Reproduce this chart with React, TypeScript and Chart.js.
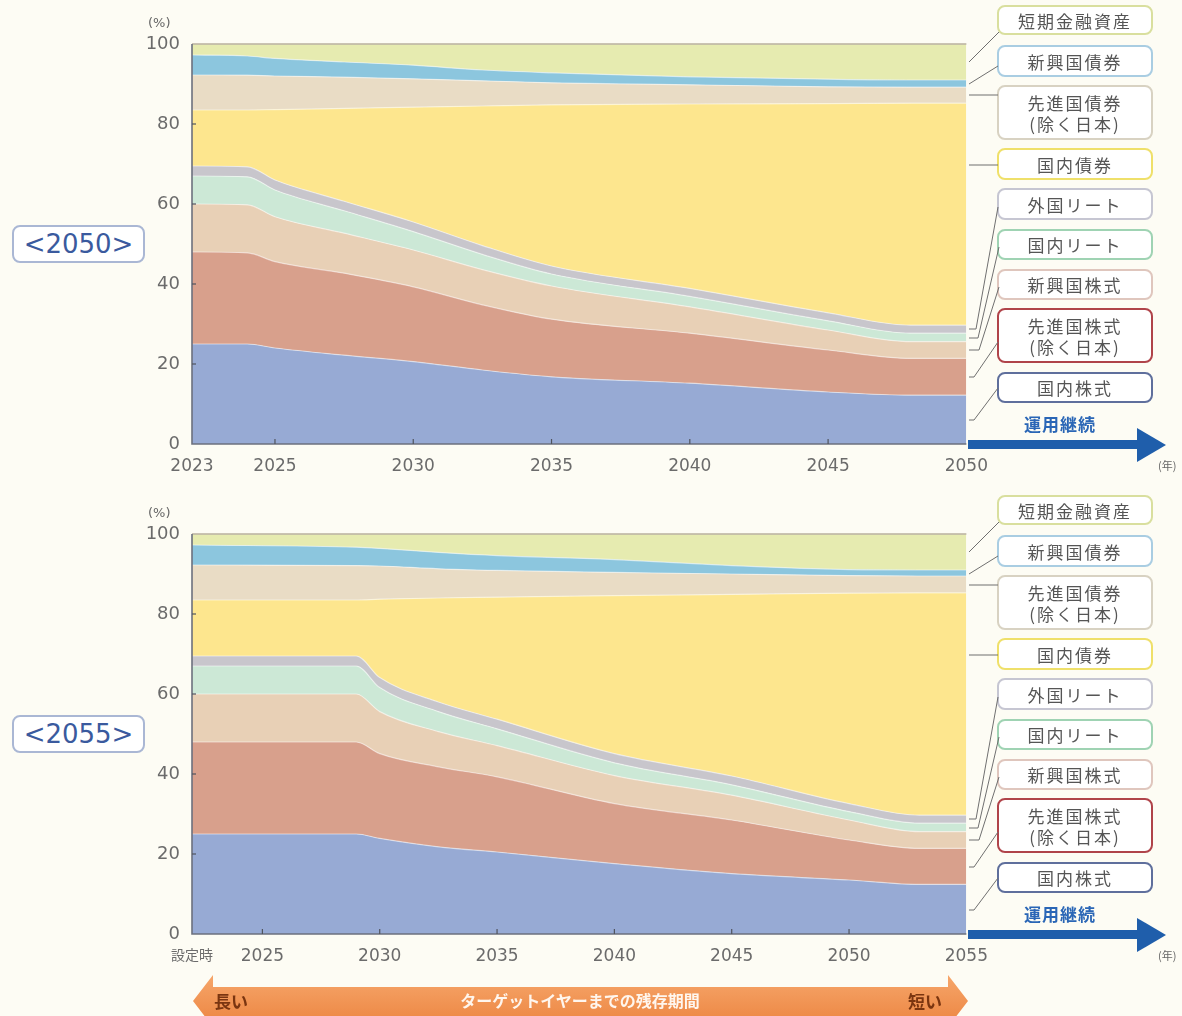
import React, { useEffect, useRef } from "react";
import { Chart, registerables } from "chart.js";
Chart.register(...registerables);

const ASSETS = ["国内株式", "先進国株式(除く日本)", "新興国株式", "国内リート", "外国リート", "国内債券", "先進国債券(除く日本)", "新興国債券", "短期金融資産"];
const COLORS = ["#97aad4", "#d8a08c", "#e8d0b6", "#cce8d6", "#c8c6cc", "#fde68e", "#e9dcc5", "#8cc6de", "#e6ebb0"];

// <2050> fund
const years2050 = [2022, 2024, 2025, 2027.5, 2030, 2032.5, 2035, 2040, 2045, 2048, 2050];
const domStocks2050 = [25, 25, 24, 22.2, 20.6, 18.5, 16.8, 15.2, 13, 12.2, 12.2];
const devStocks2050 = [23, 22.8, 21.6, 20.5, 18.7, 16.3, 14.4, 12.5, 10.5, 9.2, 9.2];
const emStocks2050 = [12, 12, 11.2, 10, 9.2, 8.8, 8.3, 6.6, 5.0, 4.2, 4.2];
const domReit2050 = [7, 7, 6.7, 5.6, 4.6, 3.8, 3.0, 2.6, 2.3, 2.1, 2.1];
const forReit2050 = [2.5, 2.5, 2.5, 2.4, 2.4, 2.2, 2.0, 2.0, 2.0, 2.0, 2.0];
const domBonds2050 = [14, 14.2, 17.6, 23.2, 28.7, 34.9, 40.3, 46.1, 52.3, 55.5, 55.5];
const devBonds2050 = [8.75, 8.7, 8.4, 7.8, 7.1, 6.3, 5.5, 4.8, 4.2, 4.0, 4.0];
const emBonds2050 = [5, 4.8, 4.4, 3.8, 3.4, 2.7, 2.5, 2.0, 1.9, 1.8, 1.8];
const shortTerm2050 = [2.75, 3, 3.6, 4.5, 5.3, 6.5, 7.2, 8.2, 8.8, 9, 9];
const ticks2050 = [2022, 2025, 2030, 2035, 2040, 2045, 2050];

// <2055> fund
const years2055 = [2022, 2029, 2030, 2032.5, 2035, 2040, 2045, 2050, 2053, 2055];
const domStocks2055 = [25, 25, 23.9, 21.8, 20.5, 17.6, 15.1, 13.5, 12.4, 12.4];
const devStocks2055 = [23, 23, 21.2, 20, 18.8, 15, 13.4, 10, 9, 9];
const emStocks2055 = [12, 12, 10.5, 8.8, 7.8, 7, 6.2, 5, 4.2, 4.2];
const domReit2055 = [7, 7, 6, 5, 4.2, 3.2, 2.6, 2.1, 2.1, 2.1];
const forReit2055 = [2.5, 2.5, 2.5, 2.4, 2.4, 2.3, 2.2, 2, 2, 2];
const domBonds2055 = [14, 14, 19.6, 26, 30.5, 39.5, 45.4, 52.6, 55.6, 55.6];
const devBonds2055 = [8.75, 8.6, 8.3, 7.3, 6.7, 5.8, 5.1, 4.4, 4.2, 4.2];
const emBonds2055 = [5, 4.6, 4.4, 4.1, 3.7, 3.2, 2.1, 1.5, 1.5, 1.5];
const shortTerm2055 = [2.75, 3.3, 3.6, 4.6, 5.4, 6.4, 7.9, 8.9, 9, 9];
const ticks2055 = [2022, 2025, 2030, 2035, 2040, 2045, 2050, 2055];

const yTicks = [0, 20, 40, 60, 80, 100];

const LEGEND = [
  { lines: ["短期金融資産"], border: "#d9df9e" },
  { lines: ["新興国債券"], border: "#a9cde2" },
  { lines: ["先進国債券", "(除く日本)"], border: "#d8d2c2" },
  { lines: ["国内債券"], border: "#efe06a" },
  { lines: ["外国リート"], border: "#c6c6d2" },
  { lines: ["国内リート"], border: "#9fd3b3" },
  { lines: ["新興国株式"], border: "#dfc6bd" },
  { lines: ["先進国株式", "(除く日本)"], border: "#b0444a" },
  { lines: ["国内株式"], border: "#5f6f9c" },
];

const CJK = '"Noto Sans CJK JP", "Noto Sans", sans-serif';
const NUM = '"DejaVu Sans", sans-serif';

const framePlugin = {
  id: "frame",
  afterDatasetsDraw(chart: any) {
    const { ctx, chartArea } = chart;
    const { left, right, top, bottom } = chartArea;
    const ys = chart.scales.y;
    const xs = chart.scales.x;
    ctx.save();
    ctx.strokeStyle = "#b8b19e";
    ctx.lineWidth = 1.5;
    ctx.beginPath();
    ctx.moveTo(left, top);
    ctx.lineTo(right, top);
    ctx.stroke();
    ctx.strokeStyle = "#6c707e";
    ctx.lineWidth = 1.6;
    ctx.beginPath();
    ctx.moveTo(left, top);
    ctx.lineTo(left, bottom);
    ctx.lineTo(right, bottom);
    ctx.stroke();
    ctx.lineWidth = 1.2;
    ctx.strokeStyle = "#50545e";
    ys.ticks.forEach((t: any) => {
      if (t.value === 0 || t.value === 100) return;
      const py = ys.getPixelForValue(t.value);
      ctx.beginPath();
      ctx.moveTo(left, py);
      ctx.lineTo(left + 4, py);
      ctx.stroke();
    });
    xs.ticks.forEach((t: any, i: number) => {
      if (i === 0 || i === xs.ticks.length - 1) return;
      const px = xs.getPixelForValue(t.value);
      ctx.beginPath();
      ctx.moveTo(px, bottom);
      ctx.lineTo(px, bottom - 5);
      ctx.stroke();
    });
    ctx.restore();
  },
};

function AreaChart({ years, series, xTicks, firstLabel, cjkFirst }: any) {
  const ref = useRef<HTMLCanvasElement>(null);
  useEffect(() => {
    const chart = new Chart(ref.current as HTMLCanvasElement, {
      type: "line",
      data: {
        datasets: series.map((vals: number[], i: number) => ({
          label: ASSETS[i],
          data: vals.map((v: number, j: number) => ({ x: years[j], y: v })),
          backgroundColor: COLORS[i],
          borderColor: "rgba(255,255,255,0.5)",
          borderWidth: 1.2,
          pointRadius: 0,
          fill: i === 0 ? "origin" : "-1",
          cubicInterpolationMode: "monotone",
        })),
      },
      options: {
        responsive: false,
        animation: false,
        layout: { padding: { left: 12, top: 44, right: 32, bottom: 10 } },
        plugins: { legend: { display: false }, tooltip: { enabled: false } },
        scales: {
          x: {
            type: "linear",
            min: xTicks[0],
            max: xTicks[xTicks.length - 1],
            afterBuildTicks: (s: any) => {
              s.ticks = xTicks.map((v: number) => ({ value: v }));
            },
            afterFit: (s: any) => {
              s.height = 36;
            },
            grid: { display: false, drawTicks: false },
            border: { display: false },
            ticks: {
              autoSkip: false,
              maxRotation: 0,
              padding: 12,
              color: "#6b6b6b",
              font: (c: any) =>
                c.tick && c.tick.value === xTicks[0] && cjkFirst
                  ? { family: CJK, size: 14 }
                  : { family: NUM, size: 17 },
              callback: (v: any) => (v === xTicks[0] ? firstLabel : String(v)),
            },
          },
          y: {
            stacked: true,
            min: 0,
            max: 100,
            afterBuildTicks: (s: any) => {
              s.ticks = yTicks.map((v) => ({ value: v }));
            },
            afterFit: (s: any) => {
              s.width = 50;
            },
            grid: { display: false, drawTicks: false },
            border: { display: false },
            ticks: {
              padding: 12,
              color: "#6b6b6b",
              font: { family: NUM, size: 18 },
              callback: (v: any) => String(v),
            },
          },
        },
      },
      plugins: [framePlugin],
    } as any);
    return () => chart.destroy();
  }, []);
  return (
    <canvas
      ref={ref}
      width={870}
      height={490}
      style={{ position: "absolute", left: 130, top: 0, width: 870, height: 490 }}
    />
  );
}

const BOX_Y = [
  [5, 35],
  [45, 77],
  [85, 140],
  [148, 180],
  [188, 220],
  [229, 260],
  [269, 300],
  [308, 363],
  [372, 403],
];

const LEADERS = [
  [[969, 62], [999, 32]],
  [[969, 84], [998, 66]],
  [[969, 95], [998, 95]],
  [[969, 165], [998, 165]],
  [[969, 329], [976, 329], [998, 207]],
  [[969, 338], [978, 338], [999, 247]],
  [[969, 350], [979, 350], [999, 287]],
  [[969, 377], [974, 377], [998, 342]],
  [[969, 420], [974, 420], [998, 388]],
];

function Panel({ offset, title, years, series, xTicks, firstLabel, cjkFirst }: any) {
  return (
    <div style={{ position: "absolute", left: 0, top: offset, width: 1182, height: 490 }}>
      <AreaChart years={years} series={series} xTicks={xTicks} firstLabel={firstLabel} cjkFirst={cjkFirst} />
      <div style={{ position: "absolute", left: 148, top: 15, fontFamily: NUM, fontSize: 13, color: "#666" }}>(%)</div>
      <div
        style={{
          position: "absolute",
          left: 12,
          top: 225,
          width: 129,
          height: 34,
          border: "2px solid #aab7d4",
          borderRadius: 8,
          background: "#ffffff",
          color: "#3a5a9e",
          fontFamily: NUM,
          fontSize: 26,
          lineHeight: "34px",
          textAlign: "center",
        }}
      >
        {title}
      </div>
      {LEGEND.map((l, i) => (
        <div
          key={i}
          style={{
            position: "absolute",
            left: 997,
            top: BOX_Y[i][0],
            width: 152,
            height: BOX_Y[i][1] - BOX_Y[i][0] - 4,
            border: "2px solid " + l.border,
            borderRadius: 8,
            background: "#ffffff",
            display: "flex",
            flexDirection: "column",
            justifyContent: "center",
            alignItems: "center",
            fontFamily: CJK,
            fontSize: 17,
            letterSpacing: 2,
            lineHeight: "21px",
            color: "#555",
          }}
        >
          {l.lines.map((t, k) => (
            <div key={k}>{t}</div>
          ))}
        </div>
      ))}
      <svg width={1182} height={490} style={{ position: "absolute", left: 0, top: 0, pointerEvents: "none" }}>
        {LEADERS.map((pts, i) => (
          <polyline key={i} points={pts.map((p) => p.join(",")).join(" ")} fill="none" stroke="#6f6f6f" strokeWidth={1} />
        ))}
        <rect x={968} y={440} width={172} height={9} fill="#1f5eab" />
        <polygon points="1137,428 1166,445 1137,462" fill="#1f5eab" />
      </svg>
      <div
        style={{
          position: "absolute",
          left: 1000,
          top: 411,
          width: 120,
          textAlign: "center",
          fontFamily: CJK,
          fontWeight: 700,
          fontSize: 17,
          color: "#2a66b6",
          letterSpacing: 1,
        }}
      >
        運用継続
      </div>
      <div style={{ position: "absolute", left: 1158, top: 457, fontFamily: CJK, fontSize: 11, color: "#666" }}>(年)</div>
    </div>
  );
}

export default function App() {
  const series2050 = [domStocks2050, devStocks2050, emStocks2050, domReit2050, forReit2050, domBonds2050, devBonds2050, emBonds2050, shortTerm2050];
  const series2055 = [domStocks2055, devStocks2055, emStocks2055, domReit2055, forReit2055, domBonds2055, devBonds2055, emBonds2055, shortTerm2055];
  return (
    <div style={{ position: "fixed", left: 0, top: 0, width: 1182, height: 1016, background: "#fdfcf4", overflow: "hidden" }}>
      <Panel offset={0} title="<2050>" years={years2050} series={series2050} xTicks={ticks2050} firstLabel="2023" cjkFirst={false} />
      <Panel offset={490} title="<2055>" years={years2055} series={series2055} xTicks={ticks2055} firstLabel="設定時" cjkFirst={true} />
      <svg width={1182} height={1016} style={{ position: "absolute", left: 0, top: 0, pointerEvents: "none" }}>
        <defs>
          <linearGradient id="og" x1="0" y1="0" x2="0" y2="1">
            <stop offset="0" stopColor="#f6a66a" />
            <stop offset="1" stopColor="#ec8440" />
          </linearGradient>
        </defs>
        <polygon points="193,1001 213,975 213,987 948,987 948,975 968,1001 948,1027 213,1027" fill="url(#og)" />
      </svg>
      <div style={{ position: "absolute", left: 214, top: 988, fontFamily: CJK, fontWeight: 700, fontSize: 17, color: "#7a3510" }}>長い</div>
      <div style={{ position: "absolute", left: 908, top: 988, fontFamily: CJK, fontWeight: 700, fontSize: 17, color: "#7a3510" }}>短い</div>
      <div
        style={{
          position: "absolute",
          left: 380,
          width: 400,
          top: 988,
          textAlign: "center",
          fontFamily: CJK,
          fontWeight: 700,
          fontSize: 16,
          color: "#fff6ee",
        }}
      >
        ターゲットイヤーまでの残存期間
      </div>
    </div>
  );
}
